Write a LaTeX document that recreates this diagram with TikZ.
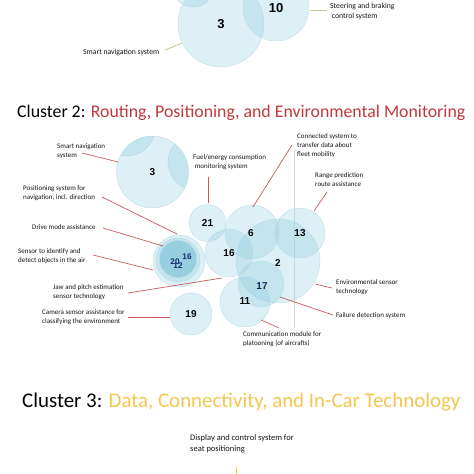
\documentclass[tikz,border=0pt]{standalone}
\usepackage{fontspec}
\setmainfont{Carlito}
\newfontfamily\numfont{Liberation Sans}
\definecolor{redT}{RGB}{192,57,60}
\definecolor{yelT}{RGB}{244,198,80}
\definecolor{bubC}{RGB}{140,204,222}
\definecolor{bubE}{RGB}{180,215,225}
\definecolor{bubD}{RGB}{100,180,208}
\definecolor{lineR}{RGB}{200,88,92}
\definecolor{lineO}{RGB}{200,196,150}
\definecolor{labC}{RGB}{20,20,20}
\definecolor{navy}{RGB}{25,45,110}
\begin{document}
\begin{tikzpicture}[x=1pt,y=-1pt,
  bub/.style={circle, inner sep=0pt, fill=bubC, fill opacity=0.3, draw=bubE, draw opacity=0.8, line width=0.4pt, text opacity=1, text=black, font=\numfont\bfseries\fontsize{10}{10}\selectfont},
  bigbub/.style={bub, font=\numfont\bfseries\fontsize{13}{13}\selectfont},
  lab/.style={anchor=west, align=left, inner sep=0pt, text=labC, font=\fontsize{7}{9}\selectfont},
  toplab/.style={anchor=west, align=left, inner sep=0pt, text=labC, font=\fontsize{7.7}{10}\selectfont},
  conn/.style={draw=lineR, line width=0.7pt},
  connO/.style={draw=lineO, line width=0.8pt},
  title/.style={anchor=base west, inner sep=0pt},
  num/.style={inner sep=0pt, font=\numfont\bfseries\fontsize{10}{10}\selectfont},
  smallnum/.style={inner sep=0pt, text=navy, font=\numfont\bfseries\fontsize{8.2}{8.2}\selectfont}
]
\useasboundingbox (0,0) rectangle (474,474);

% ---------- top cluster remnant ----------
\node[bub, minimum size=42pt] (t0) at (193,-14) {};
\node[bigbub, minimum size=86pt] (t3) at (221,24) {3};
\node[bigbub, minimum size=66pt] (t10) at (276,8) {\raisebox{-2pt}{10}};
\node[toplab] (tl1) at (330,11) {Steering and braking\\\ control system};
\node[toplab] (tl2) at (83,52) {Smart navigation system};
\coordinate (ta1) at (310,10); \coordinate (tb1) at (327,10);
\coordinate (ta2) at (165,50); \coordinate (tb2) at (182,43);
\draw[connO] (ta1) -- (tb1);
\draw[connO] (ta2) -- (tb2);

% ---------- title 2 ----------
\node[title, font=\fontsize{17.8}{17.8}\selectfont] (title2) at (17,117) {Cluster 2: \textcolor{redT}{Routing, Positioning, and Environmental Monitoring}};

% faint vertical line
\coordinate (v1) at (294,150); \coordinate (v2) at (294,328);
\draw[black!15, line width=0.4pt] (v1) -- (v2);

% ---------- cluster 2 bubbles ----------
\node[bub, minimum size=72pt] (c3) at (152.5,172) {3};
\begin{scope}
  \clip (152.5,172) circle[radius=36];
  \fill[bubC, fill opacity=0.3] (127,128) circle[radius=28];
  \fill[bubC, fill opacity=0.3] (196,162) circle[radius=28];
  \draw[bubE, line width=0.4pt] (127,128) circle[radius=28];
  \draw[bubE, line width=0.4pt] (196,162) circle[radius=28];
\end{scope}
\node[bub, minimum size=37pt] (c21) at (207.5,223) {21};
\node[bub, minimum size=84pt] (c2) at (278,261) {};
\node[bub, minimum size=54pt] (c6) at (252,232) {};
\node[bub, minimum size=50pt] (c13) at (300,233) {13};
\node[bub, minimum size=48pt] (c16) at (229,253) {16};
\node[bub, minimum size=50pt] (c11) at (245,302) {};
\node[bub, minimum size=46pt] (c17) at (261,284) {};
\node[bub, minimum size=42pt] (c19) at (191,314) {19};
\node[bub, minimum size=52pt] (c20o) at (179,261) {};
\node[bub, minimum size=44pt] (c20m) at (178,260) {};
\node[bub, minimum size=37pt, fill=bubD, fill opacity=0.45] (c20i) at (178,259) {};
% numbers drawn on top
\node[num] (n6) at (251,233) {6};
\node[num] (n2) at (278,263) {2};
\node[num, text=navy!80!black] (n17) at (262,286) {17};
\node[num] (n11) at (245,301) {11};
\node[smallnum] (n20) at (175,261.5) {20};
\node[smallnum] (n12) at (178,266) {12};
\node[smallnum] (n16b) at (187,256.5) {16};

% ---------- cluster 2 labels ----------
\node[lab] (l1) at (57,151) {Smart navigation\\system};
\node[lab] (l2) at (193,162.5) {Fuel/energy consumption\\\ monitoring system};
\node[lab] (l3) at (297,146) {Connected system to\\transfer data about\\fleet mobility};
\node[lab] (l4) at (315,179.5) {Range prediction\\route assistance};
\node[lab] (l5) at (23,193.5) {Positioning system for\\navigation, incl. direction};
\node[lab] (l6) at (32,227) {Drive mode assistance};
\node[lab] (l7) at (18,256.5) {Sensor to identify and\\detect objects in the air};
\node[lab] (l8) at (53,292.5) {Jaw and pitch estimation\\sensor technology};
\node[lab] (l9) at (42,317.5) {Camera sensor assistance for\\classifying the environment};
\node[lab] (l10) at (336,287.5) {Environmental sensor\\technology};
\node[lab] (l11) at (336,316) {Failure detection system};
\node[lab] (l12) at (243,339.5) {Communication module for\\platooning (of aircrafts)};

\coordinate (a1) at (82,153);  \coordinate (b1) at (118,162);
\coordinate (a2) at (208,177); \coordinate (b2) at (208,203);
\coordinate (a3) at (292,145); \coordinate (b3) at (253,207);
\coordinate (a4) at (327,192); \coordinate (b4) at (314,211);
\coordinate (a5) at (102,197); \coordinate (b5) at (177,234);
\coordinate (a6) at (103,228); \coordinate (b6) at (163,246);
\coordinate (a7) at (93,255);  \coordinate (b7) at (153,270);
\coordinate (a8) at (128,293); \coordinate (b8) at (222,278);
\coordinate (a9) at (128,317); \coordinate (b9) at (170,317);
\coordinate (a10) at (332,288); \coordinate (b10) at (315,284);
\coordinate (a11) at (333,315); \coordinate (b11) at (280,297);
\coordinate (a12) at (279,328); \coordinate (b12) at (261,320);
\foreach \i in {1,...,12} {\draw[conn] (a\i) -- (b\i);}

% ---------- title 3 ----------
\node[title, font=\fontsize{20.9}{20.9}\selectfont] (title3) at (22,407) {Cluster 3: \textcolor{yelT}{Data, Connectivity, and In-Car Technology}};
\node[toplab, font=\fontsize{8.5}{11}\selectfont] (d1) at (190,443.5) {Display and control system for\\seat positioning};
\coordinate (y1) at (236,467); \coordinate (y2) at (236,474);
\draw[draw=yelT, line width=0.6pt] (y1) -- (y2);
\end{tikzpicture}
\end{document}
